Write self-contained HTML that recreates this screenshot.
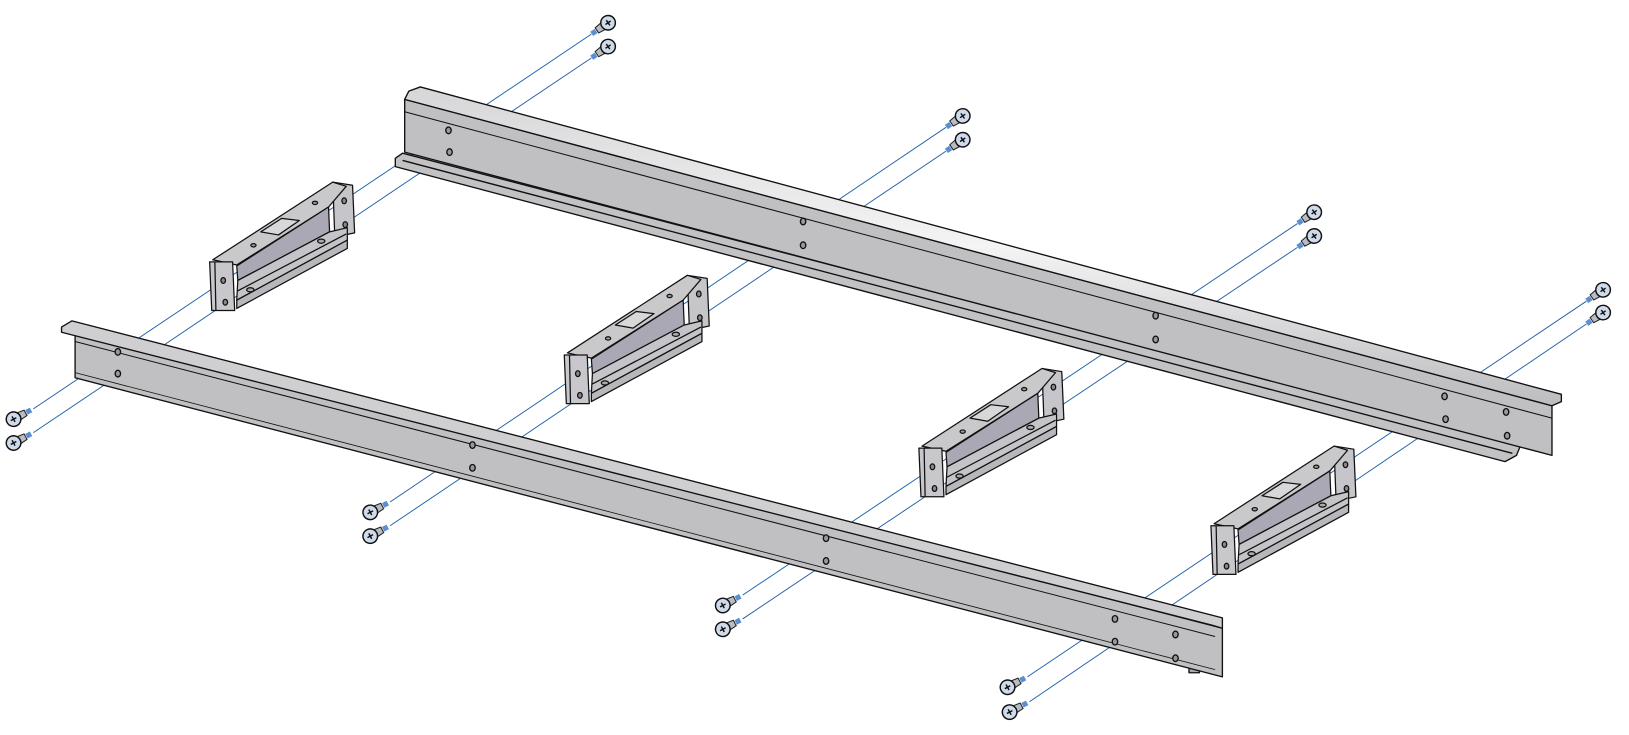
<!DOCTYPE html>
<html><head><meta charset="utf-8"><style>html,body{margin:0;padding:0;background:#fff;width:1629px;height:735px;overflow:hidden}</style></head>
<body>
<svg width="1629" height="735" viewBox="0 0 1629 735" xmlns="http://www.w3.org/2000/svg">
<defs>
<linearGradient id="lip" x1="0" y1="0" x2="0" y2="1">
<stop offset="0" stop-color="#d6d6d8"/><stop offset="0.5" stop-color="#f4f4f5"/><stop offset="1" stop-color="#bdbdc0"/>
</linearGradient>
<g id="br" stroke="#111" stroke-width="1.2" stroke-linejoin="round">
<polygon points="319,176 338,179 340,225 321,229" fill="#c6c6ca"/>
<ellipse cx="330" cy="194" rx="2.2" ry="2.8" fill="#888"/>
<ellipse cx="331" cy="217" rx="2.2" ry="2.8" fill="#888"/>
<polygon points="204,251 319,176 332,180 315,200 227,256" fill="#c9c9cc"/>
<polygon points="250,224 270,211 287,213 267,227" fill="#d8d8da"/>
<polygon points="227,257 315,200 316,224 228,271" fill="#a9a8b4"/>
<polygon points="228,271 316,224 333,220 333,232 227,290" fill="#c5c5c9"/>
<line x1="228" y1="281" x2="332" y2="226"/>
<polygon points="227,290 333,232 333,240 227,298" fill="#b8b8bc"/>
<ellipse cx="243" cy="237" rx="2.5" ry="1.6" fill="#999"/>
<ellipse cx="302" cy="196" rx="2.5" ry="1.6" fill="#999"/>
<ellipse cx="240" cy="280" rx="3.5" ry="2" fill="#aaa"/>
<ellipse cx="308" cy="233" rx="3.5" ry="2" fill="#aaa"/>
<polygon points="201,253 223,253 225,300 203,300" fill="#c8c8cc"/>
<line x1="206" y1="253" x2="207" y2="300"/>
<ellipse cx="214" cy="271" rx="2.2" ry="2.8" fill="#888"/>
<ellipse cx="216" cy="292" rx="2.2" ry="2.8" fill="#888"/>
</g>
<g id="scr">
<polygon points="4,-4 13,-3 13,3 4,4" fill="#b8bcc4" stroke="#222" stroke-width="1"/>
<rect x="14" y="-2.5" width="5" height="5" fill="#5b8fd0"/>
<circle cx="0" cy="0" r="7" fill="#cfdbea" stroke="#111" stroke-width="1.4"/>
<path d="M-3,0H3M0,-3V3" stroke="#111" stroke-width="1.4"/>
</g>
</defs>
<g transform="scale(1.043,1.035)">
<g stroke="#1f5fa8" stroke-width="0.9" fill="none">
<line x1="567" y1="33" x2="32" y2="395"/>
<line x1="567" y1="56" x2="32" y2="418"/>
<line x1="907" y1="123" x2="374" y2="485"/>
<line x1="907" y1="146" x2="374" y2="508"/>
<line x1="1244" y1="216" x2="712" y2="575"/>
<line x1="1244" y1="239" x2="712" y2="598"/>
<line x1="1521" y1="291" x2="985" y2="654"/>
<line x1="1521" y1="313" x2="987" y2="678"/>
</g>
<!-- back rail -->
<g stroke="#111" stroke-width="1.3" stroke-linejoin="round">
<polygon points="379,153 386,148 1458,430 1454,440 1443,446 379,161" fill="#c2c2c5"/>
<line x1="386" y1="155" x2="1450" y2="438"/>
<polygon points="388,96 1488,392 1488,440 388,147" fill="#c0c0c3"/>
<polygon points="388,96 392,88 403,84 1497,381 1497,388 1488,392" fill="url(#lip)"/>
<line x1="388" y1="108" x2="1488" y2="404" stroke-width="1"/>
<ellipse cx="430" cy="126" rx="2.6" ry="3.2" fill="#999"/>
<ellipse cx="431" cy="147" rx="2.6" ry="3.2" fill="#999"/>
<ellipse cx="770" cy="214" rx="2.6" ry="3.2" fill="#999"/>
<ellipse cx="770" cy="237" rx="2.6" ry="3.2" fill="#999"/>
<ellipse cx="1108" cy="305" rx="2.6" ry="3.2" fill="#999"/>
<ellipse cx="1108" cy="328" rx="2.6" ry="3.2" fill="#999"/>
<ellipse cx="1385" cy="383" rx="2.6" ry="3.2" fill="#999"/>
<ellipse cx="1386" cy="405" rx="2.6" ry="3.2" fill="#999"/>
<ellipse cx="1444" cy="398" rx="2.6" ry="3.2" fill="#999"/>
<ellipse cx="1445" cy="421" rx="2.6" ry="3.2" fill="#999"/>
</g>
<use href="#br"/>
<use href="#br" transform="translate(340,90)"/>
<use href="#br" transform="translate(680,180)"/>
<use href="#br" transform="translate(960,255)"/>
<!-- front rail -->
<g stroke="#111" stroke-width="1.3" stroke-linejoin="round">
<polygon points="1140,640 1150,638 1150,650 1140,650" fill="#aaa"/>
<polygon points="72,320 1172,607 1172,654 72,365" fill="#c0c0c3"/>
<polygon points="59,316 69,310 1172,597 1172,607 1162,604 59,321" fill="#cfcfd2"/>
<line x1="72" y1="330" x2="1165" y2="615" stroke-width="1"/>
<line x1="72" y1="360" x2="1165" y2="647" stroke-width="0.8"/>
<ellipse cx="113" cy="340" rx="2.6" ry="3.2" fill="#999"/>
<ellipse cx="113" cy="361" rx="2.6" ry="3.2" fill="#999"/>
<ellipse cx="453" cy="430" rx="2.6" ry="3.2" fill="#999"/>
<ellipse cx="453" cy="452" rx="2.6" ry="3.2" fill="#999"/>
<ellipse cx="792" cy="520" rx="2.6" ry="3.2" fill="#999"/>
<ellipse cx="792" cy="542" rx="2.6" ry="3.2" fill="#999"/>
<ellipse cx="1069" cy="598" rx="2.6" ry="3.2" fill="#999"/>
<ellipse cx="1069" cy="620" rx="2.6" ry="3.2" fill="#999"/>
<ellipse cx="1127" cy="613" rx="2.6" ry="3.2" fill="#999"/>
<ellipse cx="1127" cy="636" rx="2.6" ry="3.2" fill="#999"/>
</g>
<!-- screws -->
<use href="#scr" transform="translate(583,22) rotate(145.5)"/>
<use href="#scr" transform="translate(583,45) rotate(145.5)"/>
<use href="#scr" transform="translate(923,112) rotate(145.5)"/>
<use href="#scr" transform="translate(923,135) rotate(145.5)"/>
<use href="#scr" transform="translate(1260,205) rotate(145.5)"/>
<use href="#scr" transform="translate(1260,228) rotate(145.5)"/>
<use href="#scr" transform="translate(1537,280) rotate(145.5)"/>
<use href="#scr" transform="translate(1537,302) rotate(145.5)"/>
<use href="#scr" transform="translate(13,405) rotate(-28)"/>
<use href="#scr" transform="translate(13,428) rotate(-28)"/>
<use href="#scr" transform="translate(355,495) rotate(-28)"/>
<use href="#scr" transform="translate(355,518) rotate(-28)"/>
<use href="#scr" transform="translate(693,585) rotate(-28)"/>
<use href="#scr" transform="translate(693,608) rotate(-28)"/>
<use href="#scr" transform="translate(966,664) rotate(-28)"/>
<use href="#scr" transform="translate(968,688) rotate(-28)"/>
</g>
</svg>
</body></html>
